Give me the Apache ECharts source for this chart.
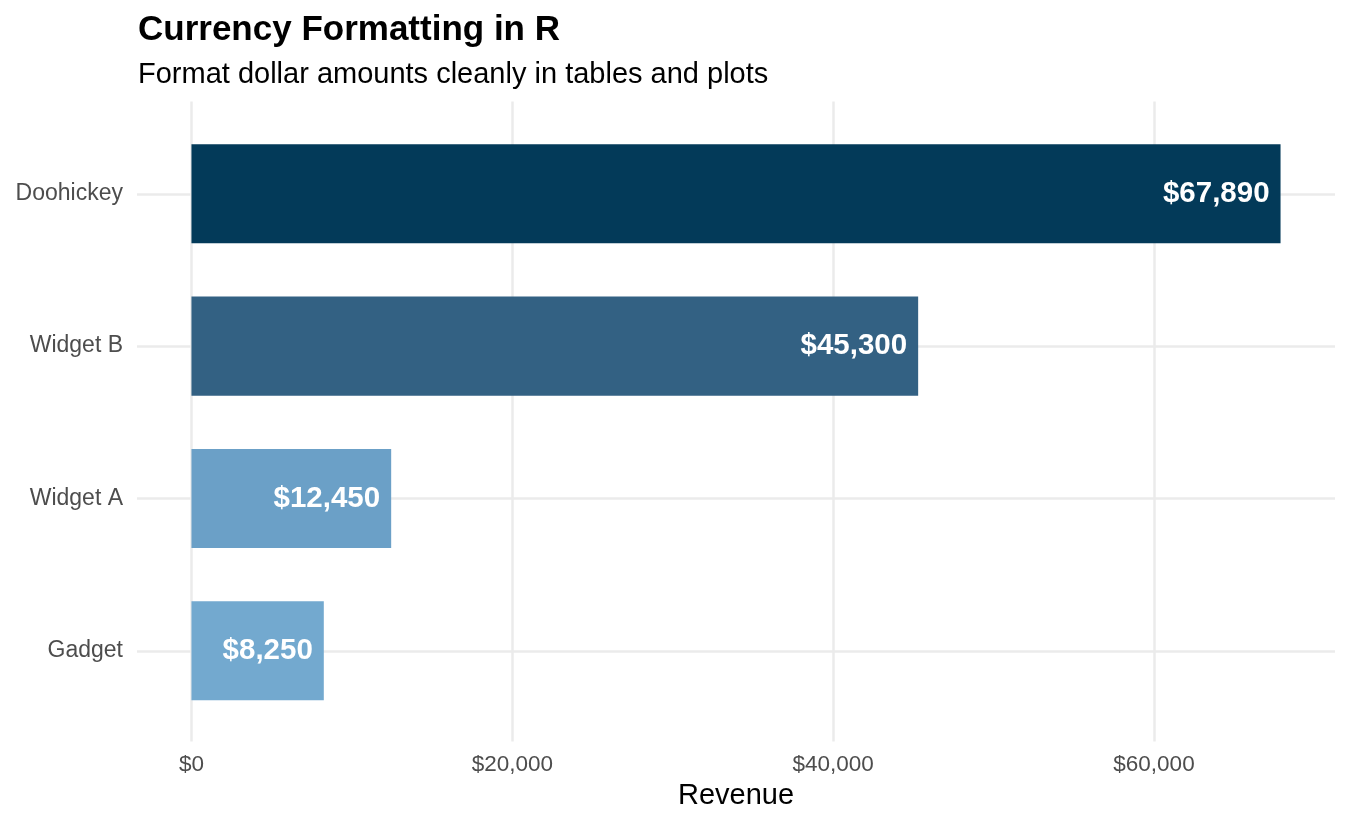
<!DOCTYPE html>
<html>
<head>
<meta charset="utf-8">
<script src="https://cdn.jsdelivr.net/npm/echarts@6/dist/echarts.min.js"></script>
<style>
html,body{margin:0;padding:0;background:#fff;}
#chart{width:1350px;height:825px;}
</style>
</head>
<body>
<div id="chart"></div>
<script>
// Data (categories listed bottom to top)
const categories = ['Gadget', 'Widget A', 'Widget B', 'Doohickey'];
const revenue = [8250, 12450, 45300, 67890];
const barColors = ['#73a9cf', '#6ba0c7', '#336183', '#033a59'];
const xTickValues = [0, 20000, 40000, 60000];

const titleText = 'Currency Formatting in R';
const subtitleText = 'Format dollar amounts cleanly in tables and plots';
const xAxisTitle = 'Revenue';

const FONT = '"Liberation Sans", Arial, Helvetica, sans-serif';
const maxVal = Math.max.apply(null, revenue);
const pad = maxVal * 0.05;
const xMin = -pad, xMax = maxVal + pad;

function dollar(v) {
  return '$' + Math.round(v).toString().replace(/\B(?=(\d{3})+(?!\d))/g, ',');
}

const chart = echarts.init(document.getElementById('chart'), null, {renderer: 'canvas'});

const option = {
  backgroundColor: '#ffffff',
  animation: false,
  title: [
    {
      text: titleText, left: 133, top: 8,
      textStyle: {fontFamily: FONT, fontSize: 35, fontWeight: 'bold', color: '#000000'}
    },
    {
      text: subtitleText, left: 133, top: 55,
      textStyle: {fontFamily: FONT, fontSize: 29, fontWeight: 'normal', color: '#000000'}
    }
  ],
  grid: [
    {left: 137, right: 15, top: 101.6, bottom: 83.6, containLabel: false},
    {left: 137, right: 15, top: 117.6, bottom: 98.0, containLabel: false}
  ],
  xAxis: [
    {
      type: 'value', gridIndex: 0, min: xMin, max: xMax,
      splitNumber: 4, minInterval: 20000, maxInterval: 20000,
      axisLine: {show: false}, axisTick: {show: false},
      axisLabel: {
        show: true, margin: 12, color: '#4d4d4d', fontFamily: FONT, fontSize: 22.5,
        showMinLabel: false, showMaxLabel: false,
        formatter: function (v) { return xTickValues.indexOf(v) >= 0 ? dollar(v) : ''; }
      },
      splitLine: {show: true, showMinLine: false, showMaxLine: false, lineStyle: {color: '#ebebeb', width: 2.5}},
      name: xAxisTitle, nameLocation: 'middle', nameGap: 40,
      nameTextStyle: {fontFamily: FONT, fontSize: 29, color: '#000000'}
    },
    {
      type: 'value', gridIndex: 1, min: xMin, max: xMax,
      show: false, splitLine: {show: false}
    }
  ],
  yAxis: [
    {type: 'value', gridIndex: 0, show: false, splitLine: {show: false}},
    {
      type: 'category', gridIndex: 1, data: categories,
      axisLine: {show: false}, axisTick: {show: false},
      axisLabel: {margin: 14, color: '#4d4d4d', fontFamily: FONT, fontSize: 23},
      splitLine: {show: true, alignWithLabel: true, lineStyle: {color: '#ebebeb', width: 2.5}}
    }
  ],
  series: [
    {
      type: 'bar', xAxisIndex: 1, yAxisIndex: 1,
      barWidth: '65%',
      data: revenue.map(function (v, i) {
        return {value: v, itemStyle: {color: barColors[i]}};
      }),
      label: {
        show: true, position: 'insideRight', distance: 11,
        formatter: function (p) { return dollar(p.value); },
        color: '#ffffff', fontFamily: FONT, fontSize: 29.5, fontWeight: 'bold'
      }
    }
  ]
};

chart.setOption(option);
</script>
</body>
</html>
